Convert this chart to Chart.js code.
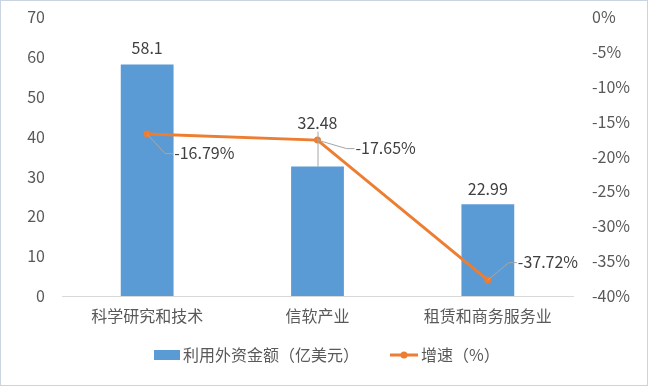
<!DOCTYPE html>
<html><head><meta charset="utf-8">
<script src="https://cdn.jsdelivr.net/npm/chart.js@4/dist/chart.umd.min.js"></script>
<style>html,body{margin:0;padding:0;background:#fff}#wrap{width:648px;height:386px;position:relative}</style>
</head><body><div id="wrap"><canvas id="c" width="648" height="386"></canvas></div>
<script>
const categories = ['科学研究和技术', '信软产业', '租赁和商务服务业'];
const amountValues = [58.1, 32.48, 22.99];
const growthValues = [-16.79, -17.65, -37.72];
const amountLabel = '利用外资金额（亿美元）';
const growthLabel = '增速（%）';
const leftTicks = [0, 10, 20, 30, 40, 50, 60, 70];
const rightTicks = [0, -5, -10, -15, -20, -25, -30, -35, -40];

const FONT = '"Noto Sans CJK SC", "Noto Sans", sans-serif';
const BLUE = '#5B9BD5', ORANGE = '#ED7D31', TXT = '#595959', LBL = '#404040';

const labelPlugin = {
  id: 'labels',
  afterDatasetsDraw(chart) {
    const ctx = chart.ctx;
    ctx.save();
    ctx.font = '16px ' + FONT;
    ctx.textBaseline = 'middle';
    const barMeta = chart.getDatasetMeta(1);
    const barOff = [17, 44, 15];
    barMeta.data.forEach((el, i) => {
      const ly = el.y - barOff[i];
      ctx.fillStyle = LBL; ctx.textAlign = 'center';
      ctx.fillText(String(amountValues[i]), el.x, ly);
      if (barOff[i] > 30) {
        ctx.strokeStyle = '#A6A6A6'; ctx.lineWidth = 1;
        ctx.beginPath(); ctx.moveTo(el.x + 0.5, ly + 9); ctx.lineTo(el.x + 0.5, el.y); ctx.stroke();
      }
    });
    const lineMeta = chart.getDatasetMeta(0);
    const offs = [[27, 19], [38, 8], [30, -18]];
    lineMeta.data.forEach((el, i) => {
      const [dx, dy] = offs[i];
      const tx = el.x + dx, ty = el.y + dy;
      ctx.strokeStyle = '#A6A6A6'; ctx.lineWidth = 1;
      ctx.beginPath(); ctx.moveTo(el.x, el.y); ctx.lineTo(tx - 9, ty + 0.5); ctx.lineTo(tx - 1, ty + 0.5); ctx.stroke();
      ctx.fillStyle = LBL; ctx.textAlign = 'left';
      ctx.fillText(growthValues[i].toFixed(2) + '%', tx, ty);
    });
    ctx.restore();
  },
  afterDraw(chart) {
    const ctx = chart.ctx;
    ctx.save();
    const y = 355;
    ctx.font = '16px ' + FONT;
    ctx.textBaseline = 'middle'; ctx.textAlign = 'left';
    const ds = chart.data.datasets;
    ctx.fillStyle = ds[1].backgroundColor;
    ctx.fillRect(154, y - 5, 26, 10);
    ctx.fillStyle = TXT;
    ctx.fillText(ds[1].label, 183, y);
    ctx.strokeStyle = ds[0].borderColor; ctx.lineWidth = 3;
    ctx.beginPath(); ctx.moveTo(390, y); ctx.lineTo(418, y); ctx.stroke();
    ctx.fillStyle = ds[0].borderColor;
    ctx.beginPath(); ctx.arc(404, y, 3.5, 0, Math.PI * 2); ctx.fill();
    ctx.fillStyle = TXT;
    ctx.fillText(ds[0].label, 421, y);
    ctx.strokeStyle = '#C9D3E1'; ctx.lineWidth = 1;
    ctx.strokeRect(0.5, 0.5, chart.width - 1, chart.height - 1);
    ctx.restore();
  }
};

new Chart(document.getElementById('c'), {
  data: {
    labels: categories,
    datasets: [
      { type: 'line', label: growthLabel, data: growthValues, yAxisID: 'y1', order: 0,
        borderColor: ORANGE, backgroundColor: ORANGE, borderWidth: 3, pointRadius: 3.5,
        pointBackgroundColor: ORANGE, pointBorderWidth: 0, tension: 0 },
      { type: 'bar', label: amountLabel, data: amountValues, yAxisID: 'y', order: 1,
        backgroundColor: BLUE, barPercentage: 0.31, categoryPercentage: 1 }
    ]
  },
  options: {
    responsive: false, animation: false,
    layout: { padding: { top: 17, bottom: 0, left: 0, right: 0 } },
    plugins: { legend: { display: false }, tooltip: { enabled: false } },
    scales: {
      x: {
        grid: { display: false, drawTicks: false },
        border: { display: true, color: '#D9D9D9', width: 1 },
        ticks: { color: TXT, font: { family: FONT, size: 16 }, padding: 10, maxRotation: 0 },
        afterFit(s) { s.height = 90; s.paddingLeft = 0; s.paddingRight = 0; }
      },
      y: {
        position: 'left', min: 0, max: 70,
        grid: { display: false, drawTicks: false }, border: { display: false },
        afterBuildTicks(s) { s.ticks = leftTicks.map(v => ({ value: v })); },
        ticks: { color: TXT, font: { family: FONT, size: 16 }, padding: 17 },
        afterFit(s) { s.width = 62; s.paddingTop = 0; s.paddingBottom = 0; }
      },
      y1: {
        position: 'right', min: -40, max: 0,
        grid: { display: false, drawTicks: false }, border: { display: false },
        afterBuildTicks(s) { s.ticks = rightTicks.map(v => ({ value: v })); },
        ticks: { color: TXT, font: { family: FONT, size: 16 }, padding: 19, callback: v => v + '%' },
        afterFit(s) { s.width = 75; s.paddingTop = 0; s.paddingBottom = 0; }
      }
    }
  },
  plugins: [labelPlugin]
});
</script></body></html>
